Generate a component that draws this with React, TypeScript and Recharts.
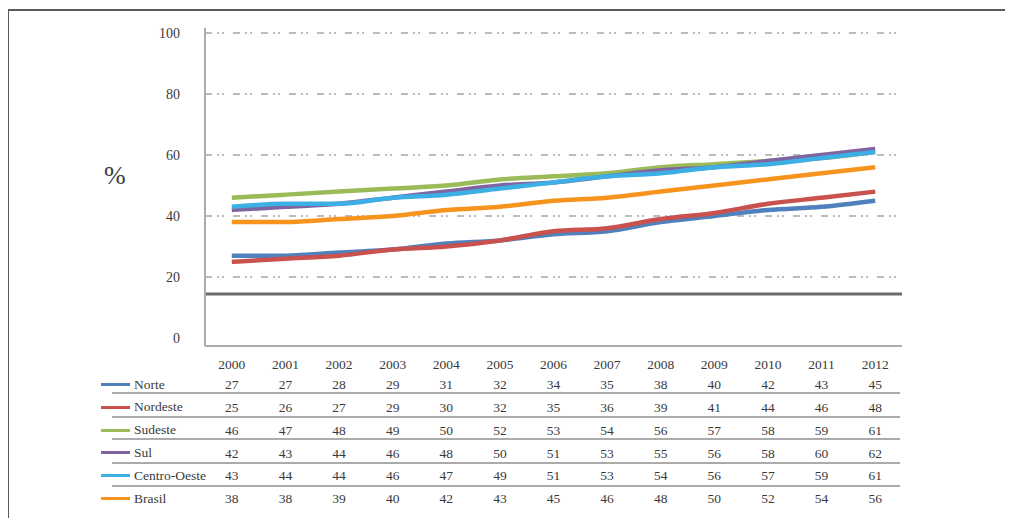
import React from "react";
import { LineChart, Line, XAxis, YAxis, ReferenceLine } from "recharts";

const years = ["2000", "2001", "2002", "2003", "2004", "2005", "2006", "2007", "2008", "2009", "2010", "2011", "2012"];
const norte = [27, 27, 28, 29, 31, 32, 34, 35, 38, 40, 42, 43, 45];
const nordeste = [25, 26, 27, 29, 30, 32, 35, 36, 39, 41, 44, 46, 48];
const sudeste = [46, 47, 48, 49, 50, 52, 53, 54, 56, 57, 58, 59, 61];
const sul = [42, 43, 44, 46, 48, 50, 51, 53, 55, 56, 58, 60, 62];
const centroOeste = [43, 44, 44, 46, 47, 49, 51, 53, 54, 56, 57, 59, 61];
const brasil = [38, 38, 39, 40, 42, 43, 45, 46, 48, 50, 52, 54, 56];
const yTicks = [0, 20, 40, 60, 80, 100];
const gridValues = [20, 40, 60, 80, 100];
const baseLineValue = 14.4;

const series = [
  { key: "norte", name: "Norte", values: norte, color: "#4f81bd" },
  { key: "nordeste", name: "Nordeste", values: nordeste, color: "#c9514e" },
  { key: "sudeste", name: "Sudeste", values: sudeste, color: "#9bbb59" },
  { key: "sul", name: "Sul", values: sul, color: "#8064a2" },
  { key: "centroOeste", name: "Centro-Oeste", values: centroOeste, color: "#3cb0e4" },
  { key: "brasil", name: "Brasil", values: brasil, color: "#f7941d" },
];

const data = years.map((year, i) => {
  const row: Record<string, string | number> = { year };
  series.forEach((s) => (row[s.key] = s.values[i]));
  return row;
});

const FONT = "Liberation Serif";
const TEXT = "#3a3a3a";
const PAD = { left: 26.8, right: 26.8 };
const ROW_H = 22.8;
const YEAR_H = 27.5;
// page y of each table row centre (chart origin is page 8,8)
const rowCenters = series.map((_, i) => 346 + YEAR_H + i * ROW_H + 11);
const separators = [393.3, 416.7, 439.3, 462.7, 486];

function makeRowTick(values: number[]) {
  return (props: any) => {
    const idx = props.index ?? props.payload?.index ?? 0;
    return (
      <text x={props.x} y={props.y + 11} dy="0.35em" textAnchor="middle" fill={TEXT} fontSize={13.5} fontFamily={FONT}>
        {values[idx]}
      </text>
    );
  };
}

function YearTick(props: any) {
  return (
    <text x={props.x} y={props.y + 18} dy="0.35em" textAnchor="middle" fill={TEXT} fontSize={13.5} fontFamily={FONT}>
      {props.payload.value}
    </text>
  );
}

export default function App() {
  return (
    <div style={{ position: "relative", width: 1005, height: 510, fontFamily: FONT, color: TEXT }}>
      <div style={{ position: "absolute", left: 0, top: 1, width: 1005, height: 1.5, background: "#5a5a5a" }} />
      <div style={{ position: "absolute", left: -0.5, top: 1, width: 1.5, height: 509, background: "#5a5a5a" }} />

      <LineChart
        width={1000}
        height={505}
        data={data}
        margin={{ top: 20, right: 106, left: 137, bottom: 2.7 }}
        style={{ position: "absolute", left: 0, top: 0 }}
      >
        {/* axes stack by id, so a0 is the year row right under the plot */}
        <XAxis
          xAxisId="a0"
          dataKey="year"
          padding={PAD}
          height={YEAR_H}
          interval={0}
          tickLine={false}
          tickSize={0}
          tickMargin={0}
          axisLine={{ stroke: "#ababab", strokeWidth: 2 }}
          tick={<YearTick />}
        />
        {series.map((s, i) => (
          <XAxis
            key={"ax-" + s.key}
            xAxisId={"a" + (i + 1)}
            dataKey="year"
            padding={PAD}
            height={ROW_H}
            interval={0}
            tickLine={false}
            tickSize={0}
            tickMargin={0}
            axisLine={false}
            tick={makeRowTick(s.values)}
          />
        ))}
        <YAxis
          width={60}
          domain={[-2.62, 101.64]}
          ticks={yTicks}
          allowDataOverflow
          tickLine={false}
          tickSize={0}
          tickMargin={25}
          axisLine={{ stroke: "#ababab", strokeWidth: 2 }}
          tick={{ fill: TEXT, fontSize: 14, fontFamily: FONT }}
        />
        {gridValues.map((v) => (
          <ReferenceLine
            key={"g" + v}
            xAxisId="a0"
            y={v}
            stroke="#a6a6a6"
            strokeWidth={1.5}
            strokeDasharray="7 5 2 3 2 9"
          />
        ))}
        <ReferenceLine xAxisId="a0" y={baseLineValue} stroke="#6b6b6b" strokeWidth={3} />
        {series.map((s) => (
          <Line
            key={s.key}
            xAxisId="a0"
            type="monotone"
            dataKey={s.key}
            name={s.name}
            stroke={s.color}
            strokeWidth={4.5}
            dot={false}
            activeDot={false}
            isAnimationActive={false}
          />
        ))}
      </LineChart>

      <div style={{ position: "absolute", left: 96, top: 153, fontSize: 26, lineHeight: "30px" }}>%</div>

      {separators.map((y) => (
        <div key={y} style={{ position: "absolute", left: 104, top: y - 9, width: 788, height: 2, background: "#ababab" }} />
      ))}

      {series.map((s, i) => (
        <React.Fragment key={"lg-" + s.key}>
          <div
            style={{ position: "absolute", left: 93, top: rowCenters[i] - 8 - 1.5, width: 29, height: 3, background: s.color }}
          />
          <div style={{ position: "absolute", left: 126, top: rowCenters[i] - 8 - 9, fontSize: 13.5, lineHeight: "18px" }}>
            {s.name}
          </div>
        </React.Fragment>
      ))}
    </div>
  );
}
